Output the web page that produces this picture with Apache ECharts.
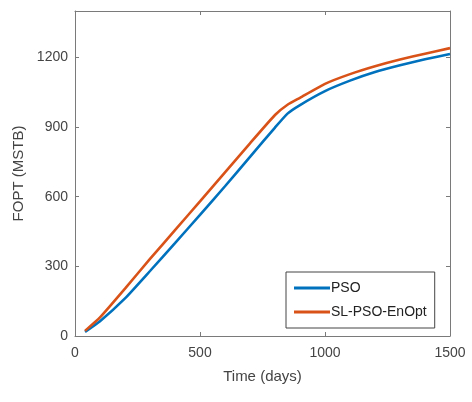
<!DOCTYPE html>
<html>
<head>
<meta charset="utf-8">
<script src="https://cdn.jsdelivr.net/npm/echarts@6/dist/echarts.min.js"></script>
<style>
  html, body { margin: 0; padding: 0; background: #fff; }
  #chart { width: 472px; height: 402px; }
</style>
</head>
<body>
<div id="chart"></div>
<script>
// Cumulative field oil production over time for two optimisation methods
const days = [40, 100, 200, 300, 400, 500, 600, 700, 800, 850, 900, 1000, 1100, 1200, 1300, 1400, 1500];
const psoValues = [18, 64, 162, 280, 400, 522, 645, 772, 898, 958, 995, 1055, 1100, 1137, 1166, 1192, 1215];
const slPsoEnOptValues = [22, 80, 204, 332, 456, 580, 705, 830, 952, 996, 1026, 1086, 1128, 1162, 1191, 1216, 1240];
const xTicks = [0, 500, 1000, 1500];
const yTicks = [0, 300, 600, 900, 1200];

const FONT = '"Liberation Sans", Arial, sans-serif';
const AXIS_COLOR = '#7a7a7a';
const LABEL_COLOR = '#444';

const toPairs = (xs, ys) => xs.map((x, i) => [x, ys[i]]);
const plain = v => String(v);

const axisLine = { show: true, onZero: false, lineStyle: { color: AXIS_COLOR, width: 1 } };
const tick = vals => ({ show: true, inside: true, length: 4, lineStyle: { color: AXIS_COLOR }, customValues: vals });

const chart = echarts.init(document.getElementById('chart'), null, { renderer: 'canvas' });
chart.setOption({
  animation: false,
  backgroundColor: '#fff',
  grid: { left: 75, right: 22, top: 11, bottom: 66, containLabel: false },
  xAxis: [{
    type: 'value', min: 0, max: 1500, interval: 500, position: 'bottom',
    name: 'Time (days)', nameLocation: 'middle', nameGap: 33,
    nameTextStyle: { fontFamily: FONT, fontSize: 15, color: LABEL_COLOR },
    axisLine: axisLine, axisTick: tick(xTicks),
    axisLabel: { fontFamily: FONT, fontSize: 14, color: LABEL_COLOR, margin: 10, customValues: xTicks, formatter: plain },
    splitLine: { show: false }
  }, {
    type: 'value', min: 0, max: 1500, interval: 500, position: 'top',
    axisLine: axisLine, axisTick: tick(xTicks),
    axisLabel: { show: false }, splitLine: { show: false }
  }],
  yAxis: [{
    type: 'value', min: 0, max: 1400, interval: 300, position: 'left',
    name: 'FOPT (MSTB)', nameLocation: 'middle', nameGap: 46, nameRotate: 90,
    nameTextStyle: { fontFamily: FONT, fontSize: 15, color: LABEL_COLOR },
    axisLine: axisLine, axisTick: tick(yTicks),
    axisLabel: { fontFamily: FONT, fontSize: 14, color: LABEL_COLOR, margin: 7, customValues: yTicks, formatter: plain },
    splitLine: { show: false }
  }, {
    type: 'value', min: 0, max: 1400, interval: 300, position: 'right',
    axisLine: axisLine, axisTick: tick(yTicks),
    axisLabel: { show: false }, splitLine: { show: false }
  }],
  legend: {
    left: 286, top: 272, orient: 'vertical',
    icon: 'rect', itemWidth: 36, itemHeight: 3, itemGap: 10,
    padding: [9, 8, 9, 8],
    borderColor: '#444', borderWidth: 1, backgroundColor: '#fff',
    textStyle: { fontFamily: FONT, fontSize: 14, color: '#222', padding: [0, 0, 0, -4] },
    data: ['PSO', 'SL-PSO-EnOpt']
  },
  series: [{
    name: 'PSO', type: 'line', xAxisIndex: 0, yAxisIndex: 0,
    data: toPairs(days, psoValues), smooth: 0.15, showSymbol: false,
    lineStyle: { color: '#0072BD', width: 2.6 }, itemStyle: { color: '#0072BD' }
  }, {
    name: 'SL-PSO-EnOpt', type: 'line', xAxisIndex: 0, yAxisIndex: 0,
    data: toPairs(days, slPsoEnOptValues), smooth: 0.15, showSymbol: false,
    lineStyle: { color: '#D95319', width: 2.6 }, itemStyle: { color: '#D95319' }
  }]
});
</script>
</body>
</html>
